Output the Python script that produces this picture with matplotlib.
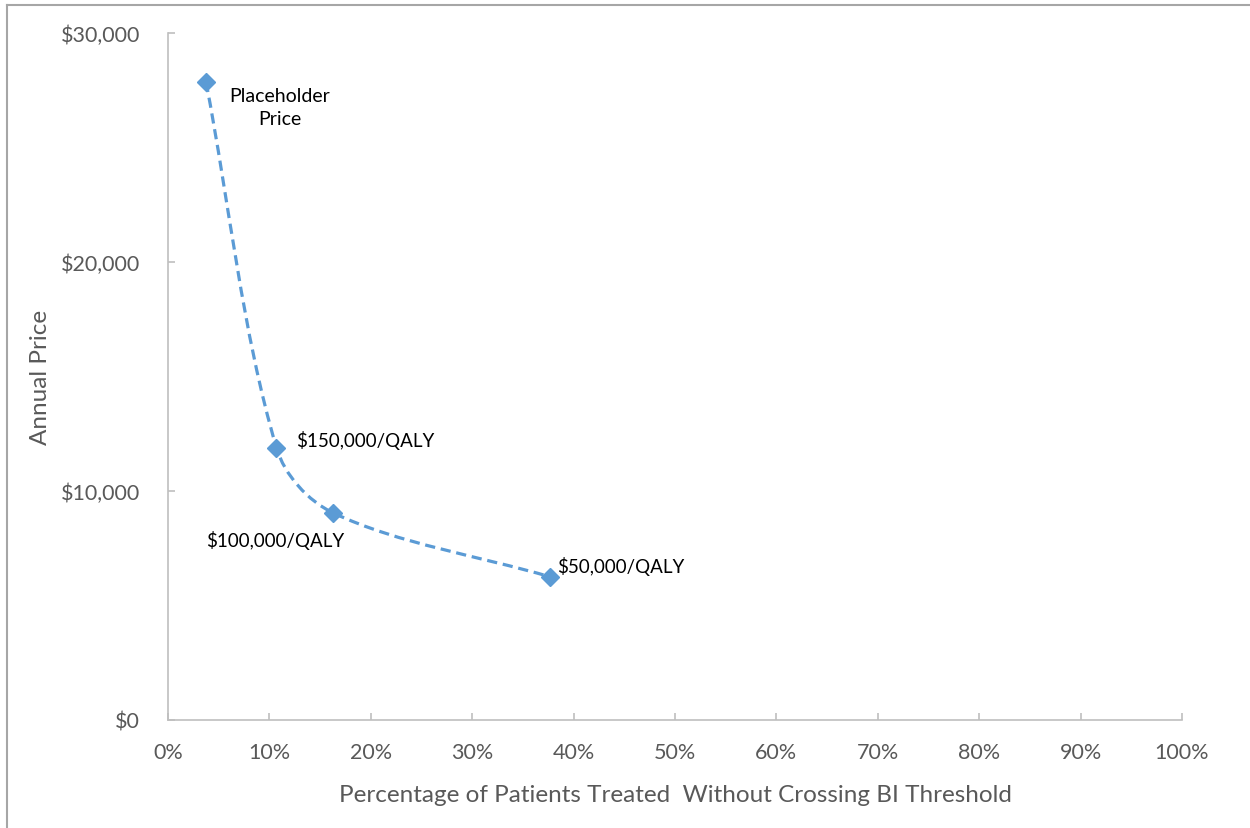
import matplotlib
matplotlib.use("Agg")
import matplotlib.pyplot as plt
from matplotlib.path import Path
from matplotlib.patches import PathPatch
from matplotlib.lines import Line2D
import numpy as np

# Data
pct_treated = [3.75, 10.7, 16.3, 37.7]           # % of patients treated
annual_price = [27860, 11880, 9040, 6250]        # annual price ($)
point_labels = ["Placeholder\nPrice", "$150,000/QALY", "$100,000/QALY", "$50,000/QALY"]
x_ticks = [0, 10, 20, 30, 40, 50, 60, 70, 80, 90, 100]
x_tick_labels = ["0%", "10%", "20%", "30%", "40%", "50%", "60%", "70%", "80%", "90%", "100%"]
y_ticks = [0, 10000, 20000, 30000]
y_tick_labels = ["$0", "$10,000", "$20,000", "$30,000"]

plt.rcParams['font.family'] = ['Lato', 'DejaVu Sans']

W, H = 1250, 829
fig = plt.figure(figsize=(W / 100, H / 100), dpi=100)
ax = fig.add_axes([168 / W, 1 - 721 / H, (1182 - 168) / W, (721 - 34) / H])
ax.set_xlim(0, 100)
ax.set_ylim(0, 30000)

color = "#5B9BD5"
grey = "#BFBFBF"
txt = "#595959"

# Smoothed line (chord-length cardinal spline -> cubic Bezier), computed in screen space
fig.canvas.draw()
data = np.column_stack([pct_treated, annual_price]).astype(float)
S = ax.transData.transform(data)
n = len(S)
d = [np.hypot(*(S[i + 1] - S[i])) for i in range(n - 1)]

def tangent(i, seg_len):
    if i == 0:
        return (S[1] - S[0]) / 3.0
    if i == n - 1:
        return (S[n - 1] - S[n - 2]) / 3.0
    return (S[i + 1] - S[i - 1]) * seg_len / (d[i - 1] + d[i]) / 3.0

verts = [S[0]]
codes = [Path.MOVETO]
for i in range(n - 1):
    c1 = S[i] + tangent(i, d[i])
    c2 = S[i + 1] - tangent(i + 1, d[i])
    verts += [c1, c2, S[i + 1]]
    codes += [Path.CURVE4] * 3
verts_data = ax.transData.inverted().transform(np.array(verts))
patch = PathPatch(Path(verts_data, codes), facecolor="none", edgecolor=color,
                  lw=2.3, linestyle=(0, (3.2, 1.8)), zorder=2)
ax.add_patch(patch)

ax.plot(pct_treated, annual_price, linestyle="none", marker="D",
        markersize=9.5, color=color, zorder=3)

# Labels
offsets = [(74, -25), (20, 8), (-58, -27), (7, 11)]
aligns = ["center", "left", "center", "left"]
sizes = [14, 13.5, 13.5, 13.5]
for x, y, lab, off, ha, fs in zip(pct_treated, annual_price, point_labels, offsets, aligns, sizes):
    ax.annotate(lab, (x, y), xytext=off, textcoords="offset pixels",
                ha=ha, va="center", fontsize=fs, color="black",
                linespacing=1.45)

ax.set_xticks(x_ticks)
ax.set_xticklabels(x_tick_labels)
ax.set_yticks(y_ticks)
ax.set_yticklabels(y_tick_labels)

for s in ["top", "right"]:
    ax.spines[s].set_visible(False)
for s in ["left", "bottom"]:
    ax.spines[s].set_color(grey)
    ax.spines[s].set_linewidth(1.2)

ax.tick_params(axis="both", direction="in", length=5, width=1.2, color=grey,
               labelcolor=txt, labelsize=15.5)
ax.tick_params(axis="x", pad=16)
ax.tick_params(axis="y", pad=20)

ax.set_xlabel("Percentage of Patients Treated  Without Crossing BI Threshold",
              fontsize=17.5, color=txt, labelpad=16)
ax.set_ylabel("Annual Price", fontsize=17.5, color=txt, labelpad=7)

# Outer frame (left and top)
fig.add_artist(Line2D([7 / W, 7 / W], [0, 1 - 6 / H], transform=fig.transFigure,
                      color="#A6A6A6", lw=1.5))
fig.add_artist(Line2D([7 / W, 1], [1 - 6 / H, 1 - 6 / H], transform=fig.transFigure,
                      color="#A6A6A6", lw=1.5))

fig.savefig("out.png", dpi=100, facecolor="white")
